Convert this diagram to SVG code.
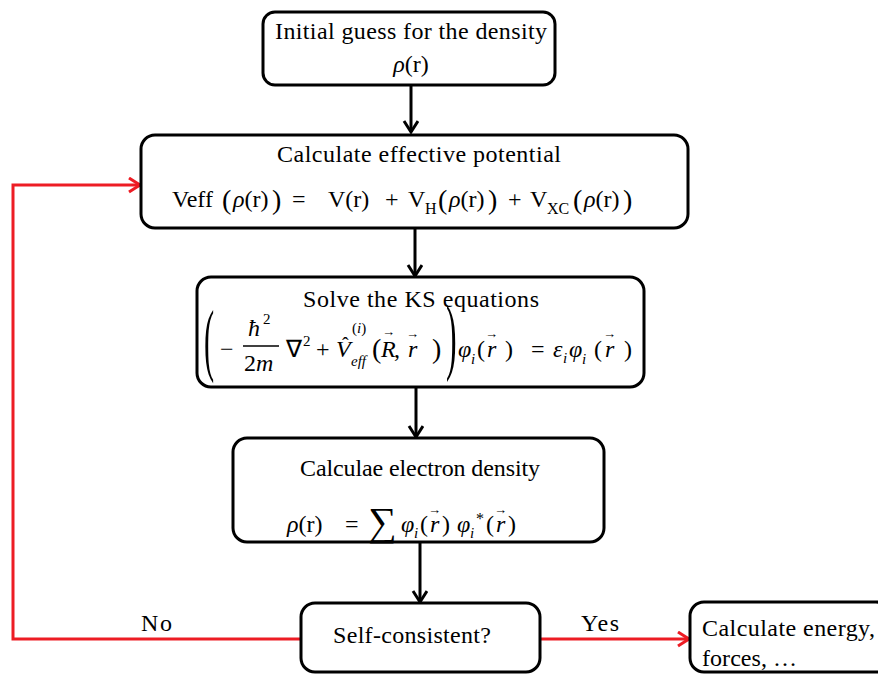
<svg xmlns="http://www.w3.org/2000/svg" width="878" height="675" viewBox="0 0 878 675">
<style>
.box{fill:#fff;stroke:#000;stroke-width:3}
text{font-family:"Liberation Serif","Times New Roman",serif;font-size:24px;fill:#000}
.i{font-style:italic}
.s{font-size:16px}
.ss{font-size:15px}
.v{font-size:13px}
.p{font-size:28px}
.bp{font-size:80px}
.sum{font-size:40px}
.blk{stroke:#000;stroke-width:3;fill:none}
.red{stroke:#ed1c24;stroke-width:3;fill:none}
</style>
<defs>
<marker id="ab" markerUnits="userSpaceOnUse" markerWidth="16" markerHeight="18" refX="12" refY="8" orient="auto">
<path d="M1,1 L12,8 L1,15" fill="none" stroke="#000" stroke-width="3"/>
</marker>
<marker id="ar" markerUnits="userSpaceOnUse" markerWidth="16" markerHeight="18" refX="12" refY="8" orient="auto">
<path d="M1,1 L12,8 L1,15" fill="none" stroke="#ed1c24" stroke-width="3"/>
</marker>
</defs>
<rect width="878" height="675" fill="#fff"/>

<g id="connectors">
<path class="blk" d="M411,85 V132" marker-end="url(#ab)"/>
<path class="blk" d="M415,228 V276" marker-end="url(#ab)"/>
<path class="blk" d="M416,387 V437" marker-end="url(#ab)"/>
<path class="blk" d="M420,542 V602" marker-end="url(#ab)"/>
<path class="red" d="M301,639 H13 V185 H140" marker-end="url(#ar)"/>
<path class="red" d="M540,639 H689" marker-end="url(#ar)"/>
<text x="141" y="631" textLength="31">No</text>
<text x="581" y="631" textLength="38">Yes</text>
</g>

<g id="n1">
<rect class="box" x="263" y="12" width="292" height="73" rx="12"/>
<text x="411" y="39" text-anchor="middle" textLength="272">Initial guess for the density</text>
<text x="411" y="72" text-anchor="middle"><tspan class="i">ρ</tspan>(r)</text>
</g>

<g id="n2">
<rect class="box" x="141" y="135" width="547" height="93" rx="14"/>
<text x="419" y="162" text-anchor="middle" textLength="284">Calculate effective potential</text>
<text x="172" y="207">Veff</text>
<text x="222" y="209" class="p">(</text>
<text x="233" y="207"><tspan class="i">ρ</tspan>(r)</text>
<text x="272" y="209" class="p">)</text>
<text x="292" y="207">=</text>
<text x="328" y="207">V(r)</text>
<text x="385" y="207">+</text>
<text x="408" y="207">V</text>
<text x="425" y="214" class="s">H</text>
<text x="438" y="209" class="p">(</text>
<text x="449" y="207"><tspan class="i">ρ</tspan>(r)</text>
<text x="488" y="209" class="p">)</text>
<text x="508" y="207">+</text>
<text x="530" y="207">V</text>
<text x="547" y="214" class="s">XC</text>
<text x="573" y="209" class="p">(</text>
<text x="584" y="207"><tspan class="i">ρ</tspan>(r)</text>
<text x="623" y="209" class="p">)</text>
</g>

<g id="n3">
<rect class="box" x="197" y="277" width="447" height="110" rx="14"/>
<text x="421" y="307" text-anchor="middle" textLength="236">Solve the KS equations</text>
<text transform="translate(204,366) scale(0.38,1)" class="bp">(</text>
<text x="220" y="357">−</text>
<text x="248" y="336" class="i">ħ</text>
<text x="263" y="324" class="ss">2</text>
<line x1="243" y1="346" x2="279" y2="346" stroke="#000" stroke-width="1.3"/>
<text x="244" y="371">2<tspan class="i">m</tspan></text>
<text x="286" y="357">∇</text>
<text x="303" y="346" class="ss">2</text>
<text x="316" y="357">+</text>
<text x="336" y="357" class="i">V</text>
<text x="342" y="352" style="font-size:20px">ˆ</text>
<text x="352" y="333" class="ss">(<tspan class="i">i</tspan>)</text>
<text x="351" y="366" class="ss i">eff</text>
<text x="372" y="358" class="p">(</text>
<text x="381" y="357" class="i">R</text>
<text x="382" y="336" class="v">→</text>
<text x="394" y="357">,</text>
<text x="408" y="357" class="i">r</text>
<text x="406" y="338" class="v">→</text>
<text x="432" y="358" class="p">)</text>
<text transform="translate(446,364) scale(0.38,1)" style="font-size:84px">)</text>
<text x="458" y="357" class="i">φ</text>
<text x="471" y="364" class="ss i">i</text>
<text x="477" y="357">(</text>
<text x="487" y="357" class="i">r</text>
<text x="485" y="338" class="v">→</text>
<text x="505" y="357">)</text>
<text x="531" y="357">=</text>
<text x="553" y="357" class="i">ε</text>
<text x="563" y="363" class="ss i">i</text>
<text x="569" y="357" class="i">φ</text>
<text x="582" y="364" class="ss i">i</text>
<text x="594" y="357">(</text>
<text x="605" y="357" class="i">r</text>
<text x="603" y="338" class="v">→</text>
<text x="624" y="357">)</text>
</g>

<g id="n4">
<rect class="box" x="233" y="438" width="371" height="104" rx="14"/>
<text x="420" y="476" text-anchor="middle" textLength="240">Calculae electron density</text>
<text x="287" y="532"><tspan class="i">ρ</tspan>(r)</text>
<text x="345" y="532">=</text>
<text x="368" y="535" class="sum">∑</text>
<text x="401" y="532" class="i">φ</text>
<text x="414" y="538" class="ss i">i</text>
<text x="420" y="532">(</text>
<text x="430" y="532" class="i">r</text>
<text x="428" y="514" class="v">→</text>
<text x="442" y="532">)</text>
<text x="457" y="532" class="i">φ</text>
<text x="470" y="538" class="ss i">i</text>
<text x="476" y="524" class="s">*</text>
<text x="486" y="532">(</text>
<text x="496" y="532" class="i">r</text>
<text x="494" y="514" class="v">→</text>
<text x="508" y="532">)</text>
</g>

<g id="n5">
<rect class="box" x="301" y="603" width="239" height="69" rx="14"/>
<text x="333" y="643" textLength="158">Self-consistent?</text>
</g>

<g id="n6">
<rect class="box" x="690" y="602" width="200" height="70" rx="14"/>
<text x="702" y="636" textLength="173">Calculate energy,</text>
<text x="702" y="666" textLength="95">forces, …</text>
</g>
</svg>
